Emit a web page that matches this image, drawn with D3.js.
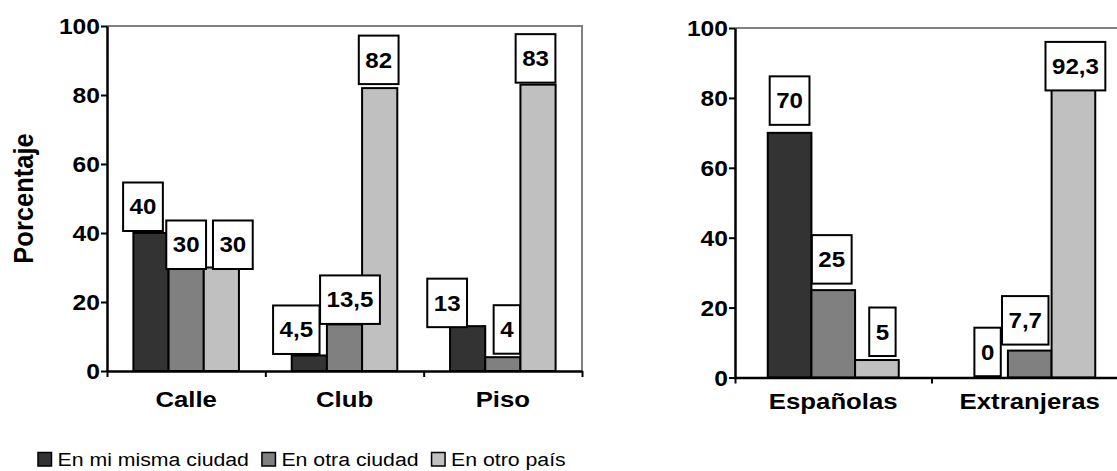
<!DOCTYPE html>
<html><head><meta charset="utf-8">
<script src="https://cdn.jsdelivr.net/npm/d3@7"></script>
<style>
body{margin:0;background:#fff}
svg{display:block;background:#fff}
text{font-family:"Liberation Sans",Arial,Helvetica,sans-serif;fill:#000}
</style>
</head><body>
<svg id="chart" width="1117" height="471"></svg>
<script>
// ---------------- data ----------------
const seriesNames = ["En mi misma ciudad", "En otra ciudad", "En otro país"];
const leftCategories = ["Calle", "Club", "Piso"];
const leftMisma = [40, 4.5, 13];
const leftOtraCiudad = [30, 13.5, 4];
const leftOtroPais = [30, 82, 83];
const rightCategories = ["Españolas", "Extranjeras"];
const rightMisma = [70, 0];
const rightOtraCiudad = [25, 7.7];
const rightOtroPais = [5, 92.3];
const yTickValues = [0, 20, 40, 60, 80, 100];
const yAxisTitle = "Porcentaje";

// ---------------- style ----------------
const seriesColors = ["#333333", "#808080", "#c0c0c0"];
const SX = 1.12; // horizontal stretch of glyphs in the reference
// manual label nudges [dx from bar centre, gap between box bottom and bar top]
const leftNudges = [[[-8, 2], [0, -1.5], [11.5, -1.5]],
                    [[-13, 1.5], [5.5, 0.5], [-1, 4]],
                    [[-20.5, -1], [4, 3.5], [-2.5, 2]]];
const rightNudges = [[[0, 8], [-1.5, 6.5], [5.5, 4]],
                     [[1.5, 1.3], [-4.5, 6], [2, -35.5]]];

const svg = d3.select("#chart");
const fmt = v => String(v).replace(".", ",");

function sText(g, x, y, str, size, weight, anchor, rot) {
  return g.append("text")
    .attr("transform", `translate(${x},${y}) scale(${SX},1)` + (rot ? ` rotate(${rot})` : ""))
    .attr("text-anchor", anchor || "start")
    .style("font-size", size + "px")
    .style("font-weight", weight || "normal")
    .text(str);
}

function drawChart(cfg) {
  const g = svg.append("g");
  const n = cfg.categories.length;
  const x = d3.scaleBand().domain(cfg.categories).range([cfg.x0, cfg.x1]).padding(0);
  const xs = d3.scaleBand().domain([0, 1, 2]).range([0, x.bandwidth()]).paddingInner(0).paddingOuter(0.75);
  const y = d3.scaleLinear().domain([0, 100]).range([cfg.yBottom, cfg.yTop]);
  const values = cfg.series;

  // plot frame (gray top & right)
  g.append("path")
    .attr("d", `M${cfg.x0},${cfg.yTop}H${cfg.x1}V${cfg.yBottom}`)
    .attr("fill", "none").attr("stroke", "#808080").attr("stroke-width", 2);

  // bars
  cfg.categories.forEach((c, ci) => {
    values.forEach((arr, si) => {
      g.append("rect")
        .attr("x", x(c) + xs(si)).attr("width", xs.bandwidth())
        .attr("y", y(arr[ci])).attr("height", y(0) - y(arr[ci]))
        .attr("fill", seriesColors[si]).attr("stroke", "#000").attr("stroke-width", 2);
    });
  });

  // y axis
  const ya = g.append("g").attr("transform", `translate(${cfg.x0},0)`)
    .call(d3.axisLeft(y).tickValues(yTickValues).tickSize(6).tickSizeOuter(0).tickPadding(1));
  ya.select(".domain").attr("stroke", "#000").attr("stroke-width", 2.5);
  ya.selectAll(".tick line").attr("stroke", "#000").attr("stroke-width", 2);
  ya.selectAll(".tick text")
    .attr("x", null).attr("dy", null)
    .attr("transform", `translate(-7,0) scale(${SX},1)`)
    .attr("dy", "0.36em")
    .style("font-size", "22px").style("font-weight", "bold").attr("fill", "#000");

  // x axis with category boundary ticks
  const xb = d3.scaleLinear().domain([0, n]).range([cfg.x0, cfg.x1]);
  const xa = g.append("g").attr("transform", `translate(0,${cfg.yBottom})`)
    .call(d3.axisBottom(xb).tickValues(d3.range(n + 1)).tickSize(6).tickSizeOuter(0).tickFormat(""));
  xa.select(".domain").attr("stroke", "#000").attr("stroke-width", 2.5);
  xa.selectAll(".tick line").attr("stroke", "#000").attr("stroke-width", 2);

  cfg.categories.forEach(c => {
    sText(g, x(c) + x.bandwidth() / 2, cfg.yBottom + cfg.catDy, c, 23, "bold", "middle");
  });

  // data label boxes
  cfg.categories.forEach((c, ci) => {
    values.forEach((arr, si) => {
      const v = arr[ci];
      const [dx, gap] = cfg.nudges[ci][si];
      const cx = x(c) + xs(si) + xs.bandwidth() / 2 + dx;
      const bottom = y(v) - gap;
      const h = 48.5;
      const lg = g.append("g");
      const rect = lg.append("rect");
      const t = sText(lg, cx, bottom - h / 2, fmt(v), 21.5, "bold", "middle").attr("dy", "0.36em");
      const w = t.node().getComputedTextLength() * SX + 13;
      rect.attr("x", cx - w / 2).attr("y", bottom - h).attr("width", w).attr("height", h)
        .attr("fill", "#fff").attr("stroke", "#000").attr("stroke-width", 2);
    });
  });
}

drawChart({
  x0: 107, x1: 582, yTop: 26, yBottom: 371, catDy: 36,
  categories: leftCategories,
  series: [leftMisma, leftOtraCiudad, leftOtroPais],
  nudges: leftNudges
});
drawChart({
  x0: 735, x1: 1128, yTop: 28, yBottom: 377.5, catDy: 31,
  categories: rightCategories,
  series: [rightMisma, rightOtraCiudad, rightOtroPais],
  nudges: rightNudges
});

// y-axis title
sText(svg, 33, 198.5, yAxisTitle, 25.5, "bold", "middle", -90);

// legend
const leg = svg.append("g");
let lx = 38;
seriesNames.forEach((name, i) => {
  leg.append("rect").attr("x", lx).attr("y", 452.5).attr("width", 13.5).attr("height", 13.5)
    .attr("fill", seriesColors[i]).attr("stroke", "#000").attr("stroke-width", 1.5);
  const t = sText(leg, lx + 19.5, 466, name, 19, "normal", "start");
  lx = lx + 19.5 + t.node().getComputedTextLength() * SX + 13;
});
</script>
</body></html>
